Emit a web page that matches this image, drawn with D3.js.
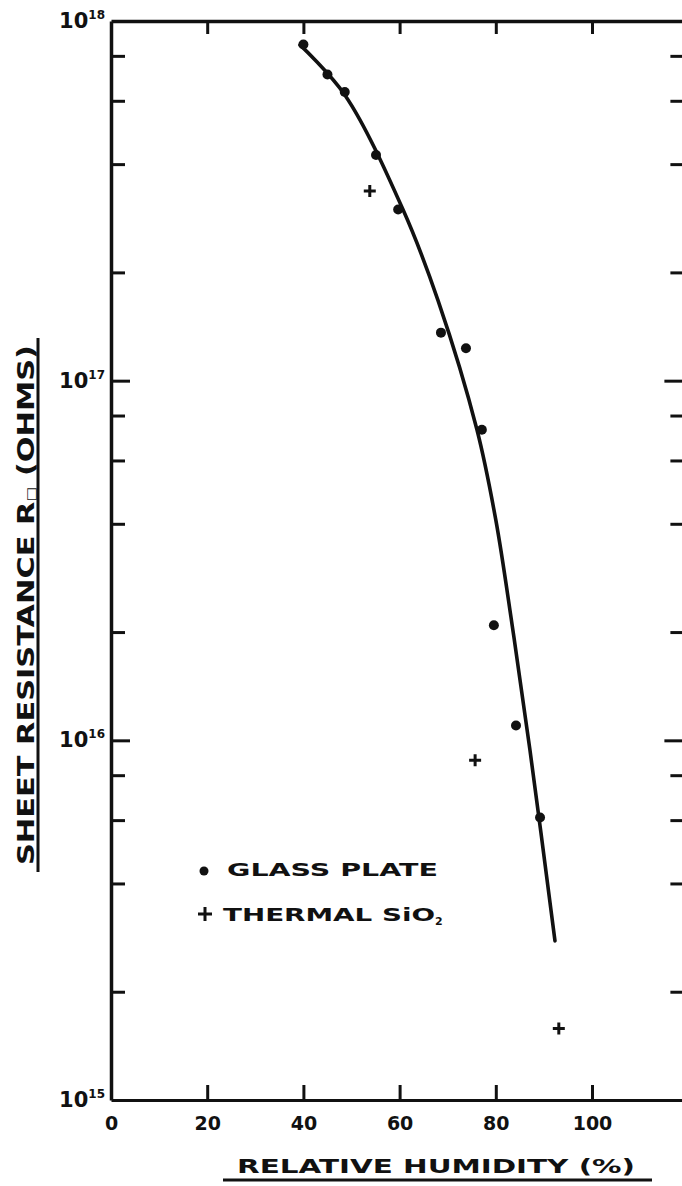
<!DOCTYPE html>
<html>
<head>
<meta charset="utf-8">
<script src="https://cdn.jsdelivr.net/npm/d3@7"></script>
<style>
  html, body { margin: 0; padding: 0; background: #fff; }
  svg { display: block; }
  text { font-family: "DejaVu Sans", sans-serif; font-weight: bold; fill: #111; }
</style>
</head>
<body>
<div id="chart"></div>
<script>
// ---- data ----
const glassHumidity   = [40, 45, 48.6, 55.1, 59.7, 68.6, 73.8, 77.1, 79.6, 84.2, 89.2];
const glassResistance = [8.6e17, 7.1e17, 6.35e17, 4.24e17, 2.99e17, 1.36e17, 1.23e17, 7.3e16, 2.09e16, 1.10e16, 6.1e15];

const thermalHumidity   = [53.8, 75.7, 93.1];
const thermalResistance = [3.37e17, 8.8e15, 1.58e15];

// hand-drawn fitted curve, points read along it
const curveHumidity   = [39.3, 48.65, 60.7, 68.0, 76.1, 80.0, 83.4, 87.1, 92.3];
const curveResistance = [8.58e17, 6.22e17, 2.99e17, 1.67e17, 7.29e16, 4.10e16, 2.09e16, 9.4e15, 2.77e15];

const xTickValues = [0, 20, 40, 60, 80, 100];
const yMajorTicks = [1e15, 1e16, 1e17, 1e18];
const yMajorExponents = ["15", "16", "17", "18"];
const yMinorTicks = [2e15, 4e15, 6e15, 8e15, 2e16, 4e16, 6e16, 8e16, 2e17, 4e17, 6e17, 8e17];

const legendLabels = ["GLASS PLATE", "THERMAL SiO"];
const xTitle = "RELATIVE  HUMIDITY  (%)";

// ---- layout ----
const W = 682, H = 1186;
const plotLeft = 111, plotTop = 21, plotBottom = 1100;
const xMax = 119;
const pxPerUnit = 4.81;
const plotRight = plotLeft + xMax * pxPerUnit;

const svg = d3.select("#chart").append("svg").attr("width", W).attr("height", H);

const x = d3.scaleLinear().domain([0, xMax]).range([plotLeft, plotRight]);
const y = d3.scaleLog().domain([1e15, 1e18]).range([plotBottom, plotTop]);

const ink = "#111";

function styleAxis(g, width) {
  g.select(".domain").attr("stroke", ink).attr("stroke-width", width);
  g.selectAll(".tick line").attr("stroke", ink).attr("stroke-width", 3);
}

// bottom axis with inward ticks and labels
const gx = svg.append("g").attr("transform", `translate(0,${plotBottom})`)
  .call(d3.axisBottom(x).tickValues(xTickValues).tickSizeInner(-15).tickSizeOuter(0).tickPadding(17).tickFormat(d3.format("d")));
styleAxis(gx, 3);
gx.selectAll(".tick line").filter(d => d === 0).remove();
gx.selectAll(".tick text").attr("font-size", 19).attr("font-family", "DejaVu Sans").attr("font-weight", "bold").attr("fill", ink);

// top axis with inward ticks, no labels
const gxt = svg.append("g").attr("transform", `translate(0,${plotTop})`)
  .call(d3.axisTop(x).tickValues(xTickValues.filter(d => d > 0)).tickSizeInner(-13).tickSizeOuter(0).tickFormat(""));
styleAxis(gxt, 3.5);

// left axis: minor and major ticks inward
const gyMin = svg.append("g").attr("transform", `translate(${plotLeft},0)`)
  .call(d3.axisLeft(y).tickValues(yMinorTicks).tickSizeInner(-14).tickSizeOuter(0).tickFormat(""));
styleAxis(gyMin, 3.5);
const gyMaj = svg.append("g").attr("transform", `translate(${plotLeft},0)`)
  .call(d3.axisLeft(y).tickValues(yMajorTicks.slice(1, 3)).tickSizeInner(-19).tickSizeOuter(0).tickFormat(""));
gyMaj.select(".domain").remove();
gyMaj.selectAll(".tick line").attr("stroke", ink).attr("stroke-width", 3);

// right axis: inward ticks only
const gyR = svg.append("g").attr("transform", `translate(${plotRight},0)`)
  .call(d3.axisRight(y).tickValues(yMinorTicks).tickSizeInner(-13).tickSizeOuter(0).tickFormat(""));
styleAxis(gyR, 3);
const gyR2 = svg.append("g").attr("transform", `translate(${plotRight},0)`)
  .call(d3.axisRight(y).tickValues(yMajorTicks.slice(1, 3)).tickSizeInner(-19).tickSizeOuter(0).tickFormat(""));
gyR2.select(".domain").remove();
gyR2.selectAll(".tick line").attr("stroke", ink).attr("stroke-width", 3);

// power-of-ten labels
const ylab = svg.append("g");
yMajorTicks.forEach((v, i) => {
  const t = ylab.append("text")
    .attr("x", plotLeft - 6).attr("y", y(v) + 7)
    .attr("text-anchor", "end").attr("font-size", 21);
  t.append("tspan").text("10");
  t.append("tspan").attr("dy", -9).attr("font-size", 12).text(yMajorExponents[i]);
});

// fitted curve
const curveData = curveHumidity.map((h, i) => [h, curveResistance[i]]);
svg.append("path")
  .datum(curveData)
  .attr("fill", "none").attr("stroke", ink).attr("stroke-width", 3.6)
  .attr("stroke-linecap", "round").attr("stroke-linejoin", "round")
  .attr("d", d3.line().x(d => x(d[0])).y(d => y(d[1])).curve(d3.curveCatmullRom.alpha(0.5)));

// glass plate dots
svg.append("g").selectAll("circle")
  .data(glassHumidity.map((h, i) => [h, glassResistance[i]]))
  .join("circle")
  .attr("cx", d => x(d[0])).attr("cy", d => y(d[1])).attr("r", 5).attr("fill", ink);

// thermal SiO2 crosses
svg.append("g").selectAll("path")
  .data(thermalHumidity.map((h, i) => [h, thermalResistance[i]]))
  .join("path")
  .attr("d", d => { const cx = x(d[0]), cy = y(d[1]); return `M${cx - 6},${cy}H${cx + 6}M${cx},${cy - 6}V${cy + 6}`; })
  .attr("stroke", ink).attr("stroke-width", 3);

// legend
const lg = svg.append("g");
lg.append("circle").attr("cx", 204).attr("cy", 871).attr("r", 4.5).attr("fill", ink);
lg.append("text").attr("x", 227).attr("y", 876).attr("font-size", 18)
  .attr("textLength", 211).attr("lengthAdjust", "spacingAndGlyphs").text(legendLabels[0]);
lg.append("path").attr("d", "M198,914H212M205,907V921").attr("stroke", ink).attr("stroke-width", 3);
const t2 = lg.append("text").attr("x", 223).attr("y", 921).attr("font-size", 18);
t2.append("tspan").attr("textLength", 212).attr("lengthAdjust", "spacingAndGlyphs").text(legendLabels[1]);
t2.append("tspan").attr("dy", 4).attr("font-size", 11).text("2");

// x title
svg.append("text").attr("x", 237).attr("y", 1173).attr("font-size", 19)
  .attr("textLength", 398).attr("lengthAdjust", "spacingAndGlyphs").text(xTitle);
svg.append("line").attr("x1", 223).attr("x2", 652).attr("y1", 1180).attr("y2", 1180)
  .attr("stroke", ink).attr("stroke-width", 3);

// y title (rotated)
const yt = svg.append("text")
  .attr("transform", "translate(34,865) rotate(-90)")
  .attr("font-size", 23);
yt.append("tspan").text("SHEET RESISTANCE  R");
yt.append("tspan").attr("font-size", 12).attr("dy", 1).text("\u25A1");
yt.append("tspan").attr("dy", -1).text(" (OHMS)");
yt.attr("textLength", 520).attr("lengthAdjust", "spacingAndGlyphs");
svg.append("line").attr("x1", 38).attr("x2", 38).attr("y1", 338).attr("y2", 872)
  .attr("stroke", ink).attr("stroke-width", 3);
</script>
</body>
</html>
